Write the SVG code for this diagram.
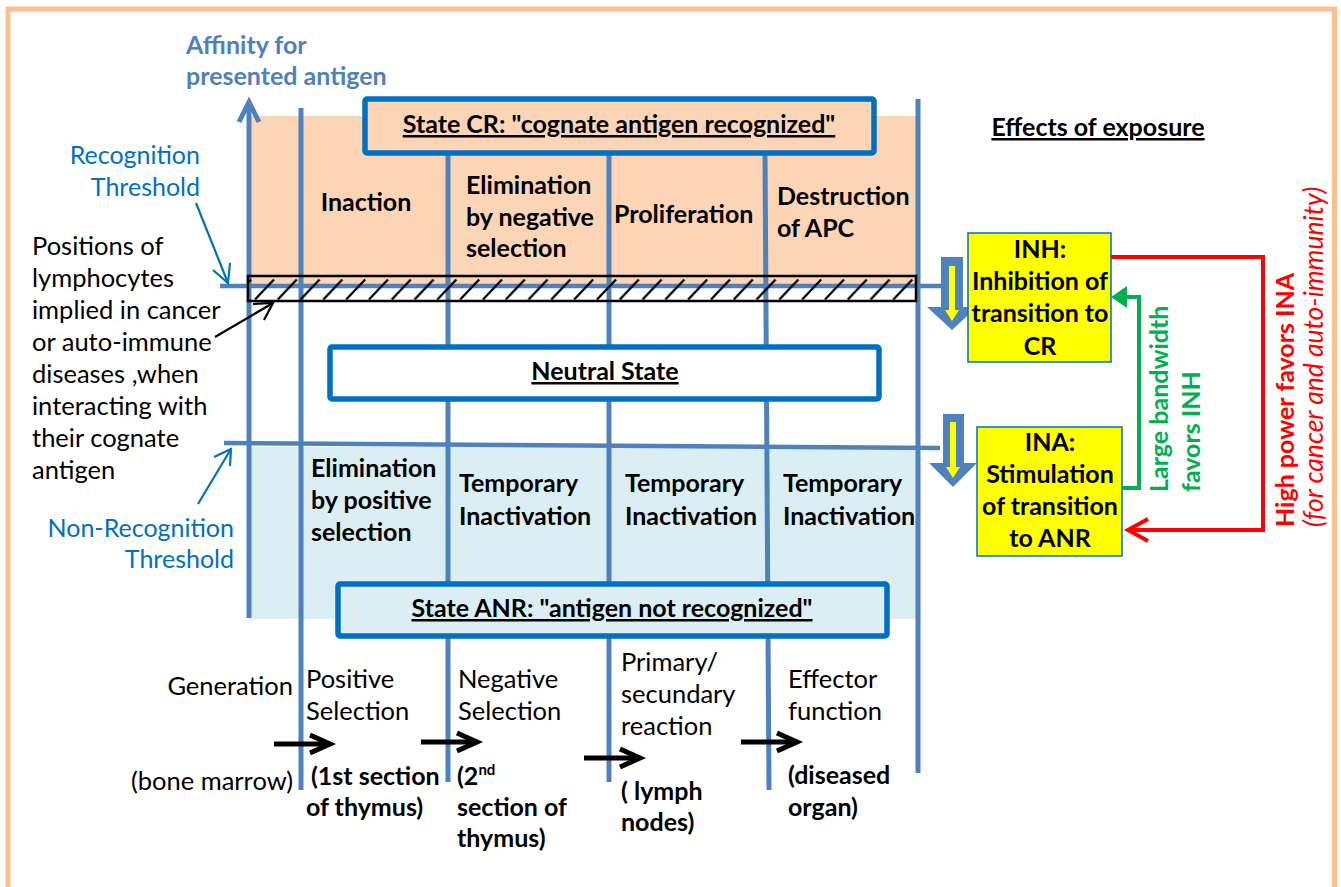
<svg xmlns="http://www.w3.org/2000/svg" width="1341" height="887" viewBox="0 0 1341 887">
<style>
text{font-family:Lato,"Open Sans","Liberation Sans",sans-serif;font-size:25.5px;fill:#000}
.b{font-weight:bold;font-size:25px}
.u{text-decoration:underline}
.c{text-anchor:middle}
.r{text-anchor:end}
.blue{fill:#0070C0;font-size:25px}
.ax{fill:#4F81BD}
.vl{stroke:#4F81BD;stroke-width:5;fill:none}
.hl{stroke:#4F81BD;stroke-width:4.5;fill:none}
.box{stroke:#0070C0;stroke-width:5.5}
.ybox{fill:#FFFF00;stroke:#0070C0;stroke-width:1.5}
.bar{fill:#4F81BD}
.yar{fill:#FFFF00}
.thin{fill:none;stroke-width:2.2}
.blk{fill:none;stroke:#000;stroke-width:5}
</style>
<defs>
<pattern id="hatch" patternUnits="userSpaceOnUse" x="252" y="276" width="22.8" height="25">
<line x1="3" y1="23.5" x2="22" y2="3.5" stroke="#000" stroke-width="2.3"/>
</pattern>
<marker id="chev" markerUnits="userSpaceOnUse" markerWidth="30" markerHeight="30" refX="22" refY="9" orient="auto" overflow="visible">
<path d="M2,0 L22,9 L2,18" fill="none" stroke="#000" stroke-width="5"/>
</marker>
</defs>
<rect x="8" y="9" width="1326.5" height="890" fill="#fff" stroke="#FBC08E" stroke-width="5"/>

<g id="regions">
<rect x="250" y="116" width="666" height="171" fill="#FBD5B5"/>
<rect x="250" y="447" width="666" height="172" fill="#DBEEF4"/>
</g>

<g id="thresholds">
<line class="hl" x1="220" y1="286" x2="942" y2="286"/>
<line class="hl" x1="224" y1="443" x2="940" y2="448"/>
</g>

<g id="axis">
<path class="vl" d="M249,618 V102"/>
<path class="vl" d="M239,122 L249,102 L259,122"/>
<text x="186" y="54" class="b ax">Affinity for</text>
<text x="186" y="85" class="b ax">presented antigen</text>
</g>

<g id="columns">
<path class="vl" d="M301,108 V790"/>
<path class="vl" d="M448,153 V782"/>
<path class="vl" d="M609,153 V782"/>
<path class="vl" d="M765,153 L769,790"/>
<path class="vl" d="M918,99 V773"/>
</g>

<g id="hatched-bar">
<rect x="248" y="276" width="668" height="25" fill="url(#hatch)" stroke="#000" stroke-width="2.5"/>
</g>

<g id="state-cr">
<rect class="box" x="365" y="99" width="509" height="54" rx="2" fill="#FBD5B5"/>
<text x="619" y="133" class="b c u">State CR: "cognate antigen recognized"</text>
</g>

<g id="neutral-state">
<rect class="box" x="330" y="347" width="549" height="52" rx="2" fill="#fff"/>
<text x="605" y="380" class="b c u">Neutral State</text>
</g>

<g id="state-anr">
<rect class="box" x="338" y="584" width="549" height="52" rx="2" fill="#DBEEF4"/>
<text x="612" y="617" class="b c u">State ANR: "antigen not recognized"</text>
</g>

<g id="cr-labels">
<text x="366" y="211" class="b c">Inaction</text>
<text x="466" y="194" class="b">Elimination</text>
<text x="466" y="226" class="b">by negative</text>
<text x="466" y="257" class="b">selection</text>
<text x="614" y="223" class="b">Proliferation</text>
<text x="777" y="205" class="b">Destruction</text>
<text x="777" y="237" class="b">of APC</text>
</g>

<g id="anr-labels">
<text x="311" y="477" class="b">Elimination</text>
<text x="311" y="509" class="b">by positive</text>
<text x="311" y="541" class="b">selection</text>
<text x="459" y="492" class="b">Temporary</text>
<text x="459" y="525" class="b">Inactivation</text>
<text x="625" y="492" class="b">Temporary</text>
<text x="625" y="525" class="b">Inactivation</text>
<text x="783" y="492" class="b">Temporary</text>
<text x="783" y="525" class="b">Inactivation</text>
</g>

<g id="recognition-threshold">
<text x="200" y="164" class="r blue">Recognition</text>
<text x="200" y="196" class="r blue">Threshold</text>
</g>

<g id="non-recognition-threshold">
<text x="234" y="537" class="r blue">Non-Recognition</text>
<text x="234" y="568" class="r blue">Threshold</text>
</g>

<g id="positions-note">
<text x="32" y="255">Positions of</text>
<text x="32" y="287">lymphocytes</text>
<text x="32" y="319">implied in cancer</text>
<text x="32" y="351">or auto-immune</text>
<text x="32" y="383">diseases ,when</text>
<text x="32" y="415">interacting with</text>
<text x="32" y="447">their cognate</text>
<text x="32" y="479">antigen</text>
</g>

<g id="stages">
<text x="293" y="695" class="r">Generation</text>
<text x="293" y="790" class="r">(bone marrow)</text>
<text x="306" y="688">Positive</text>
<text x="306" y="720">Selection</text>
<text x="311" y="785" class="b">(1st section</text>
<text x="306" y="816" class="b">of thymus)</text>
<text x="458" y="688">Negative</text>
<text x="458" y="720">Selection</text>
<text x="457" y="785" class="b">(2<tspan dy="-10" font-size="15">nd</tspan></text>
<text x="457" y="816" class="b">section of</text>
<text x="457" y="847" class="b">thymus)</text>
<text x="621" y="671">Primary/</text>
<text x="621" y="703">secundary</text>
<text x="621" y="735">reaction</text>
<text x="621" y="800" class="b">( lymph</text>
<text x="621" y="831" class="b">nodes)</text>
<text x="788" y="688">Effector</text>
<text x="788" y="720">function</text>
<text x="788" y="784" class="b">(diseased</text>
<text x="788" y="816" class="b">organ)</text>
</g>

<g id="effects">
<text x="1098" y="136" class="b c u">Effects of exposure</text>
</g>

<g id="inh">
<path class="bar" d="M941,257 H963 V307 H977 L952,330 L927,307 H941 Z"/>
<path class="yar" d="M949,266 H955 V310 H959 L952,321 L945,310 H949 Z"/>
<rect class="ybox" x="968" y="233" width="143" height="129"/>
<text x="1040" y="258" class="b c">INH:</text>
<text x="1040" y="290" class="b c">Inhibition of</text>
<text x="1040" y="322" class="b c">transition to</text>
<text x="1040" y="355" class="b c">CR</text>
</g>

<g id="ina">
<path class="bar" d="M943,414 H964 V463 H977 L953,487 L929,463 H943 Z"/>
<path class="yar" d="M950,422 H956 V467 H960 L953,478 L946,467 H950 Z"/>
<rect class="ybox" x="977" y="427" width="145" height="129"/>
<text x="1050" y="451" class="b c">INA:</text>
<text x="1050" y="483" class="b c">Stimulation</text>
<text x="1050" y="515" class="b c">of transition</text>
<text x="1050" y="547" class="b c">to ANR</text>
</g>

<g id="connectors">
<path class="thin" stroke="#0070C0" d="M196,203 L228,283"/>
<path class="thin" stroke="#0070C0" d="M213,270 L228,283 L230,263"/>
<path class="thin" stroke="#0070C0" d="M198,504 L231,449"/>
<path class="thin" stroke="#0070C0" d="M214,457 L231,449 L230,466"/>
<path class="thin" stroke="#000" d="M215,337 L273,303"/>
<path class="thin" stroke="#000" d="M253,304 L273,303 L264,320"/>
<line class="blk" x1="274" y1="744" x2="330" y2="744" marker-end="url(#chev)"/>
<line class="blk" x1="421" y1="742" x2="477" y2="742" marker-end="url(#chev)"/>
<line class="blk" x1="584" y1="758" x2="640" y2="758" marker-end="url(#chev)"/>
<line class="blk" x1="741" y1="742" x2="797" y2="742" marker-end="url(#chev)"/>
<path d="M1122,488 H1139 V297 H1124" fill="none" stroke="#00B050" stroke-width="4"/>
<path d="M1111,297 L1127,286 L1127,308 Z" fill="#00B050"/>
<path d="M1111,257 H1263 V530 H1129" fill="none" stroke="#FF0000" stroke-width="4"/>
<path d="M1148,519 L1128,530 L1148,541" fill="none" stroke="#FF0000" stroke-width="4"/>
<text transform="translate(1168,492) rotate(-90)" class="b" style="fill:#00B050">Large bandwidth</text>
<text transform="translate(1200,492) rotate(-90)" class="b" style="fill:#00B050">favors INH</text>
<text transform="translate(1294,527) rotate(-90)" class="b" style="fill:#FF0000">High power favors INA</text>
<text transform="translate(1323,527) rotate(-90)" style="fill:#FF0000;font-style:italic;font-size:26.5px">(for cancer and auto-immunity)</text>
</g>
</svg>
